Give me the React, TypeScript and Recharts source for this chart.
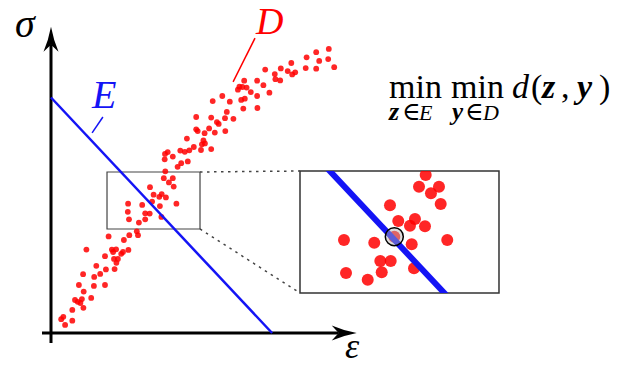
import React from "react";
import {
  ScatterChart,
  Scatter,
  XAxis,
  YAxis,
  ReferenceLine,
  ReferenceArea,
} from "recharts";

type Pt = { x: number; y: number };

// data cloud D, strain vs stress in arbitrary units (0..100 on both axes)
const cloudD: Pt[] = [
  { x: 92.6, y: 94.7 }, { x: 88.4, y: 93.6 }, { x: 85.2, y: 91.9 }, { x: 89.4, y: 90.7 },
  { x: 92.4, y: 91.3 }, { x: 94.4, y: 88.6 }, { x: 80.1, y: 90.0 }, { x: 76.6, y: 88.2 },
  { x: 78.9, y: 87.3 }, { x: 84.9, y: 88.3 }, { x: 88.4, y: 88.1 }, { x: 81.4, y: 86.9 },
  { x: 80.4, y: 86.2 }, { x: 71.4, y: 87.8 }, { x: 74.6, y: 86.3 }, { x: 74.8, y: 84.6 },
  { x: 76.4, y: 84.2 }, { x: 68.7, y: 84.1 }, { x: 70.8, y: 82.6 }, { x: 72.8, y: 80.1 },
  { x: 64.4, y: 84.1 }, { x: 62.8, y: 82.1 }, { x: 62.3, y: 81.1 }, { x: 63.8, y: 82.0 },
  { x: 65.2, y: 81.8 }, { x: 66.6, y: 80.3 }, { x: 68.7, y: 79.0 }, { x: 64.6, y: 78.1 },
  { x: 63.4, y: 77.7 }, { x: 64.1, y: 74.8 }, { x: 68.8, y: 75.0 }, { x: 57.1, y: 79.0 },
  { x: 53.9, y: 77.3 }, { x: 59.6, y: 77.1 }, { x: 58.6, y: 73.7 }, { x: 58.0, y: 71.6 },
  { x: 60.8, y: 71.4 }, { x: 53.4, y: 71.8 }, { x: 55.3, y: 70.3 }, { x: 55.9, y: 69.7 },
  { x: 48.4, y: 72.0 }, { x: 48.4, y: 67.9 }, { x: 52.7, y: 68.2 }, { x: 54.6, y: 66.8 },
  { x: 58.1, y: 67.3 }, { x: 51.2, y: 66.6 }, { x: 48.9, y: 67.3 }, { x: 45.3, y: 64.8 },
  { x: 50.8, y: 64.2 }, { x: 50.3, y: 62.9 }, { x: 51.3, y: 63.2 }, { x: 53.4, y: 61.3 },
  { x: 50.0, y: 61.0 }, { x: 47.6, y: 62.0 }, { x: 46.1, y: 60.9 }, { x: 44.6, y: 60.4 },
  { x: 43.1, y: 60.8 }, { x: 38.9, y: 60.3 }, { x: 38.0, y: 59.7 }, { x: 40.6, y: 58.8 },
  { x: 37.9, y: 57.9 }, { x: 45.6, y: 57.2 }, { x: 43.4, y: 56.6 }, { x: 42.2, y: 55.4 },
  { x: 38.1, y: 53.9 }, { x: 37.6, y: 51.6 }, { x: 40.6, y: 51.6 }, { x: 39.3, y: 50.2 },
  { x: 40.9, y: 48.8 }, { x: 33.0, y: 48.6 }, { x: 34.2, y: 46.1 }, { x: 36.1, y: 45.4 },
  { x: 36.9, y: 46.3 }, { x: 38.3, y: 45.2 }, { x: 33.7, y: 43.8 }, { x: 41.8, y: 43.1 },
  { x: 25.7, y: 43.1 }, { x: 30.4, y: 42.7 }, { x: 36.3, y: 42.3 }, { x: 25.6, y: 40.4 },
  { x: 31.4, y: 39.9 }, { x: 32.9, y: 39.8 }, { x: 26.0, y: 37.9 }, { x: 31.4, y: 37.9 },
  { x: 36.8, y: 38.7 }, { x: 29.3, y: 36.8 }, { x: 28.6, y: 33.9 }, { x: 29.0, y: 32.6 },
  { x: 19.2, y: 32.2 }, { x: 26.1, y: 32.6 }, { x: 24.3, y: 31.0 }, { x: 11.8, y: 27.8 },
  { x: 20.3, y: 27.8 }, { x: 21.7, y: 27.9 }, { x: 20.7, y: 27.0 }, { x: 24.0, y: 27.0 },
  { x: 25.8, y: 27.7 }, { x: 23.4, y: 26.4 }, { x: 18.0, y: 25.6 }, { x: 21.0, y: 24.7 },
  { x: 22.3, y: 24.7 }, { x: 21.8, y: 23.4 }, { x: 15.1, y: 22.4 }, { x: 18.3, y: 21.2 },
  { x: 21.2, y: 21.3 }, { x: 16.4, y: 19.7 }, { x: 10.7, y: 19.6 }, { x: 14.4, y: 18.7 },
  { x: 9.3, y: 16.0 }, { x: 18.0, y: 16.0 }, { x: 14.3, y: 15.7 }, { x: 10.9, y: 13.8 },
  { x: 8.0, y: 11.0 }, { x: 10.3, y: 11.3 }, { x: 8.9, y: 10.4 }, { x: 9.8, y: 10.0 },
  { x: 13.4, y: 11.7 }, { x: 10.8, y: 8.4 }, { x: 7.1, y: 7.7 }, { x: 4.1, y: 5.4 },
  { x: 3.4, y: 4.6 }, { x: 7.1, y: 4.1 }, { x: 4.7, y: 2.7 },
];

// model line E
const lineE: Pt[] = [
  { x: 0, y: 78.5 },
  { x: 73.7, y: 0 },
];

// window that gets magnified, and where the magnified copy sits (main units)
const zoomX: [number, number] = [18.67, 49.67];
const zoomY: [number, number] = [34.67, 53.67];
const insetX: [number, number] = [83, 149.33];
const insetY: [number, number] = [13.33, 54];

// points shown in the magnified view
const insetPoints: Pt[] = [
  { x: 38.25, y: 53.05 }, { x: 37.21, y: 51.23 }, { x: 40.32, y: 51.23 }, { x: 39.07, y: 50.2 },
  { x: 40.59, y: 48.53 }, { x: 32.69, y: 48.33 }, { x: 33.98, y: 45.88 }, { x: 36.58, y: 46.2 },
  { x: 35.8, y: 45.15 }, { x: 38.14, y: 45.06 }, { x: 25.52, y: 42.93 }, { x: 30.24, y: 42.5 },
  { x: 33.36, y: 43.44 }, { x: 36.07, y: 42.26 }, { x: 41.61, y: 42.93 }, { x: 31.18, y: 39.65 },
  { x: 32.8, y: 39.65 }, { x: 25.84, y: 37.79 }, { x: 31.4, y: 37.89 }, { x: 29.22, y: 36.74 },
  { x: 36.43, y: 38.52 },
];

// the point of D closest to E
const closest: Pt[] = [{ x: 33.36, y: 43.44 }];

const BLUE = "#1414f5";
const RED = "#ff0000";
const SERIF = "'Liberation Serif', 'DejaVu Serif', serif";

function ArrowAxis(props: any) {
  const { x1, y1, x2, y2 } = props;
  const dx = x2 - x1;
  const dy = y2 - y1;
  const len = Math.hypot(dx, dy);
  const ux = dx / len;
  const uy = dy / len;
  const nx = -uy;
  const ny = ux;
  const L = 25;
  const W = 7.5;
  const notch = 7;
  const bx = x2 - ux * L;
  const by = y2 - uy * L;
  const mx = x2 - ux * (L - notch);
  const my = y2 - uy * (L - notch);
  const cx = x2 - ux * L * 0.55;
  const cy = y2 - uy * L * 0.55;
  const head =
    `M${x2},${y2} Q${cx + nx * W * 0.35},${cy + ny * W * 0.35} ${bx + nx * W},${by + ny * W}` +
    ` L${mx},${my} L${bx - nx * W},${by - ny * W}` +
    ` Q${cx - nx * W * 0.35},${cy - ny * W * 0.35} ${x2},${y2} Z`;
  return (
    <g>
      <line x1={x1} y1={y1} x2={mx} y2={my} stroke="#000" strokeWidth={3} />
      <path d={head} fill="#000" />
    </g>
  );
}

const smallDot = (p: any) => (
  <circle cx={p.cx} cy={p.cy} r={2.9} fill={RED} fillOpacity={0.85} />
);
const bigDot = (p: any) => (
  <circle cx={p.cx} cy={p.cy} r={6} fill={RED} fillOpacity={0.85} />
);
const ring = (p: any) => (
  <circle
    cx={p.cx}
    cy={p.cy}
    r={9}
    fill="#b4b4b4"
    fillOpacity={0.45}
    stroke="#000"
    strokeWidth={1.5}
  />
);
const noDot = () => <g />;

export default function App() {
  return (
    <div
      style={{
        position: "absolute",
        left: 0,
        top: 0,
        width: 624,
        height: 366,
        background: "#fff",
        overflow: "hidden",
      }}
    >
      <ScatterChart
        width={624}
        height={366}
        margin={{ top: 33, right: 273, bottom: 33, left: 51 }}
      >
        <XAxis type="number" dataKey="x" domain={[0, 100]} hide />
        <YAxis type="number" dataKey="y" domain={[0, 100]} hide />

        <ReferenceLine
          segment={[{ x: -3, y: 0 }, { x: 101.9, y: 0 }]}
          ifOverflow="visible"
          shape={ArrowAxis}
        />
        <ReferenceLine
          segment={[{ x: 0, y: -3.3 }, { x: 0, y: 102.1 }]}
          ifOverflow="visible"
          shape={ArrowAxis}
        />

        <ReferenceArea
          x1={zoomX[0]}
          x2={zoomX[1]}
          y1={zoomY[0]}
          y2={zoomY[1]}
          fill="none"
          stroke="#444"
          strokeWidth={1.2}
          ifOverflow="visible"
        />
        <ReferenceArea
          x1={insetX[0]}
          x2={insetX[1]}
          y1={insetY[0]}
          y2={insetY[1]}
          fill="none"
          stroke="#333"
          strokeWidth={1.5}
          ifOverflow="visible"
        />
        <ReferenceLine
          segment={[{ x: zoomX[1], y: zoomY[1] }, { x: insetX[0], y: insetY[1] }]}
          ifOverflow="visible"
          stroke="#444"
          strokeWidth={1.5}
          strokeDasharray="2.5 4.5"
        />
        <ReferenceLine
          segment={[{ x: zoomX[1], y: zoomY[0] }, { x: insetX[0], y: insetY[0] }]}
          ifOverflow="visible"
          stroke="#444"
          strokeWidth={1.5}
          strokeDasharray="2.5 4.5"
        />

        {/* leader lines for the labels */}
        <ReferenceLine
          segment={[{ x: 13.7, y: 66.7 }, { x: 17.3, y: 72 }]}
          ifOverflow="visible"
          stroke={BLUE}
          strokeWidth={1.5}
        />
        <ReferenceLine
          segment={[{ x: 60.7, y: 83.7 }, { x: 68, y: 98.3 }]}
          ifOverflow="visible"
          stroke={RED}
          strokeWidth={1.5}
        />

        <Scatter
          data={cloudD}
          shape={smallDot}
          isAnimationActive={false}
        />
        <Scatter
          data={lineE}
          shape={noDot}
          line={{ stroke: BLUE, strokeWidth: 2.5 }}
          stroke={BLUE}
          isAnimationActive={false}
        />

        <text x={15} y={37} fontFamily={SERIF} fontStyle="italic" fontSize={40}>
          σ
        </text>
        <text x={345} y={358} fontFamily={SERIF} fontStyle="italic" fontSize={36}>
          ε
        </text>
        <text x={92} y={108} fontFamily={SERIF} fontStyle="italic" fontSize={40} fill={BLUE}>
          E
        </text>
        <text x={256} y={34} fontFamily={SERIF} fontStyle="italic" fontSize={38} fill={RED}>
          D
        </text>

        <g fontFamily={SERIF} fill="#000">
          <text x={389} y={98} fontSize={34}>min</text>
          <text x={451} y={98} fontSize={34}>min</text>
          <text x={512} y={98} fontSize={34} fontStyle="italic">d</text>
          <text x={531} y={98} fontSize={34}>(</text>
          <text x={542} y={98} fontSize={34} fontStyle="italic" fontWeight="bold">z</text>
          <text x={561} y={98} fontSize={34}>,</text>
          <text x={577} y={98} fontSize={34} fontStyle="italic" fontWeight="bold">y</text>
          <text x={599} y={98} fontSize={34}>)</text>
          <text x={389} y={120} fontSize={26} fontStyle="italic" fontWeight="bold">z</text>
          <text x={402} y={120} fontSize={25}>∈</text>
          <text x={419} y={120} fontSize={22} fontStyle="italic">E</text>
          <text x={452} y={120} fontSize={25} fontStyle="italic" fontWeight="bold">y</text>
          <text x={465} y={120} fontSize={25}>∈</text>
          <text x={483} y={120} fontSize={22} fontStyle="italic">D</text>
        </g>
      </ScatterChart>

      <div style={{ position: "absolute", left: 300, top: 171 }}>
        <ScatterChart
          width={199}
          height={122}
          margin={{ top: 0, right: 0, bottom: 0, left: 0 }}
        >
          <XAxis type="number" dataKey="x" domain={zoomX} allowDataOverflow hide />
          <YAxis type="number" dataKey="y" domain={zoomY} allowDataOverflow hide />
          <Scatter data={insetPoints} shape={bigDot} isAnimationActive={false} />
          <Scatter
            data={lineE}
            shape={noDot}
            line={{ stroke: BLUE, strokeWidth: 6 }}
            stroke={BLUE}
            isAnimationActive={false}
          />
          <Scatter data={closest} shape={ring} isAnimationActive={false} />
        </ScatterChart>
      </div>
    </div>
  );
}
